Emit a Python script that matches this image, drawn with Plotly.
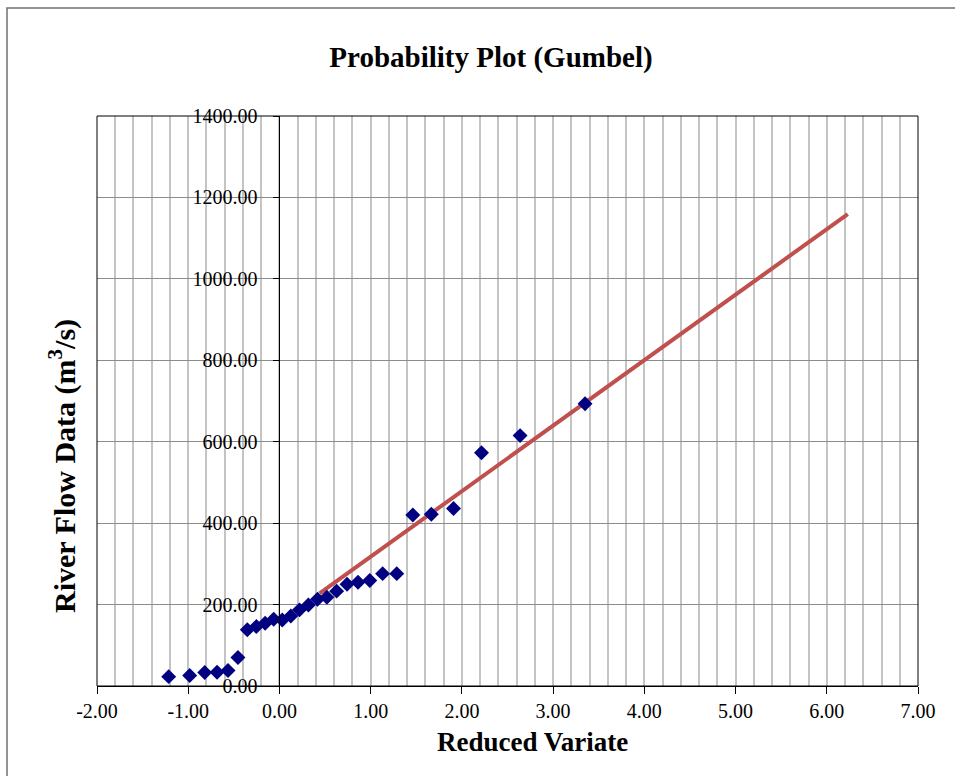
import plotly.graph_objects as go

# Reduced variate (Gumbel) and river flow data
reduced_variate = [-1.214, -0.984, -0.819, -0.684, -0.564, -0.455, -0.352, -0.253,
                   -0.157, -0.063, 0.031, 0.125, 0.220, 0.317, 0.417, 0.520,
                   0.627, 0.741, 0.861, 0.990, 1.131, 1.286, 1.462, 1.665,
                   1.908, 2.215, 2.638, 3.350]
river_flow = [23, 26, 33, 34, 38, 70, 138, 146, 154, 164, 162, 172,
              187, 199, 213, 218, 233, 250, 255, 259, 276, 276, 420, 422,
              436, 573, 615, 693]

# Fitted Gumbel line
fit_x = [0.44, 6.23]
fit_y = [227.5, 1159.0]

x_ticks = [-2, -1, 0, 1, 2, 3, 4, 5, 6, 7]
y_ticks = [0, 200, 400, 600, 800, 1000, 1200, 1400]

FONT = "Liberation Serif"

fig = go.Figure()
fig.add_trace(go.Scatter(
    x=fit_x, y=fit_y, mode="lines",
    line=dict(color="#C0504D", width=4),
    showlegend=False, hoverinfo="skip"))
fig.add_trace(go.Scatter(
    x=reduced_variate, y=river_flow, mode="markers",
    marker=dict(symbol="diamond", color="#000080", size=11.5,
                line=dict(width=0)),
    showlegend=False))

fig.update_layout(
    width=955, height=776,
    margin=dict(l=97, r=37, t=116, b=90),
    paper_bgcolor="white", plot_bgcolor="white",
    font=dict(family=FONT, color="black", size=20),
    title=dict(text="<b>Probability Plot (Gumbel)</b>",
               font=dict(family=FONT, size=29, color="black"),
               xref="container", yref="container",
               x=491 / 955, y=1 - 57 / 776,
               xanchor="center", yanchor="middle"),
    xaxis=dict(range=[-2, 7], tickvals=x_ticks,
               ticktext=[f"{v:.2f}" for v in x_ticks],
               showgrid=True, gridcolor="#C4C4C4", gridwidth=1.5,
               minor=dict(dtick=0.2, showgrid=True, gridcolor="#C4C4C4",
                          gridwidth=1.5),
               zeroline=False, showline=True, linecolor="black", linewidth=1,
               ticks="outside", ticklen=7, tickcolor="black",
               tickfont=dict(family=FONT, size=20, color="black")),
    yaxis=dict(range=[0, 1400], tickvals=y_ticks,
               ticktext=[f"{v:.2f}" for v in y_ticks],
               showgrid=True, gridcolor="#8C8C8C", gridwidth=1.2,
               zeroline=False, showline=True, linecolor="black", linewidth=1,
               anchor="free", position=2 / 9,
               ticks="outside", ticklen=6, tickcolor="black",
               ticklabelstandoff=12,
               tickfont=dict(family=FONT, size=20, color="black")),
    shapes=[
        dict(type="rect", xref="x domain", yref="y domain",
             x0=0, x1=1, y0=0, y1=1, line=dict(color="black", width=1),
             layer="above"),
        dict(type="rect", xref="paper", yref="paper",
             x0=(7 - 97) / 821, x1=1.2, y0=-0.3, y1=(686 - 8) / 570,
             line=dict(color="#707070", width=1.5), layer="below"),
    ],
    annotations=[
        dict(text="<b>Reduced Variate</b>", xref="paper", yref="paper",
             x=(532 - 97) / 821, y=(686 - 742) / 570,
             xanchor="center", yanchor="middle", showarrow=False,
             font=dict(family=FONT, size=27, color="black")),
        dict(text="<b>River Flow Data (m<sup>3</sup>/s)</b>",
             xref="paper", yref="paper",
             x=(62 - 97) / 821, y=(686 - 466) / 570,
             xanchor="center", yanchor="middle", textangle=-90,
             showarrow=False,
             font=dict(family=FONT, size=30, color="black")),
    ],
)

fig.write_html("out.html")
